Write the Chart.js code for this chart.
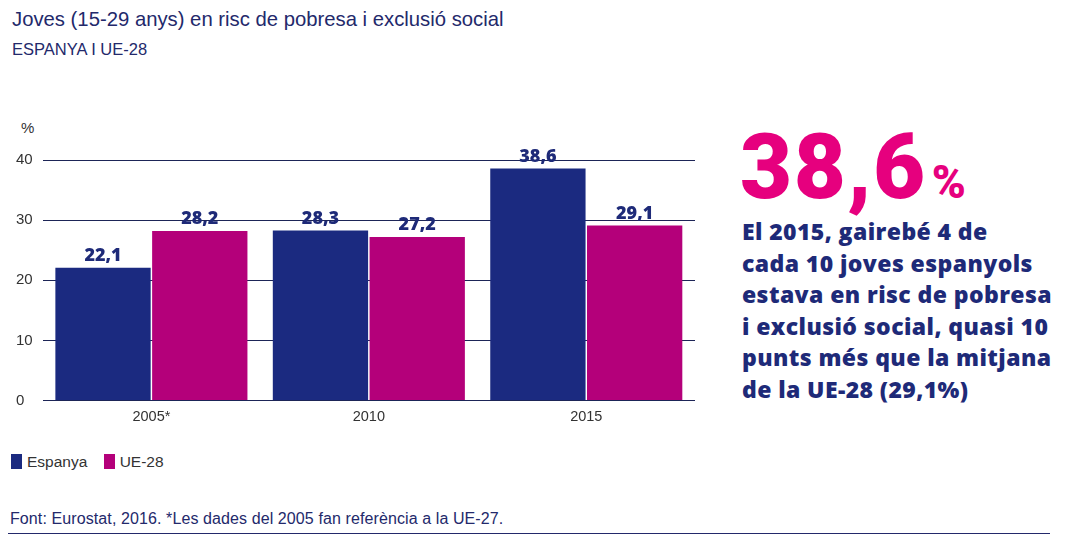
<!DOCTYPE html>
<html>
<head>
<meta charset="utf-8">
<script src="https://cdn.jsdelivr.net/npm/chart.js@4"></script>
<style>
  body { margin: 0; background: #fff; font-family: "Liberation Sans", Arial, sans-serif; color: #23296b; }
  #page { position: relative; width: 1067px; height: 539px; overflow: hidden; }
  .title { position: absolute; left: 12px; top: 8px; font-size: 20.3px; }
  .subtitle { position: absolute; left: 12px; top: 40px; font-size: 16.5px; }
  .pct { position: absolute; left: 21px; top: 119px; font-size: 15px; color: #333; }
  #chartBox { position: absolute; left: 0; top: 120px; width: 710px; height: 306px; }
  .legend { position: absolute; left: 11px; top: 453px; font-size: 15.5px; color: #333; }
  .legend span.sw { display: inline-block; width: 11px; height: 15px; vertical-align: -2px; margin-right: 5px; }
  .legend span.item { margin-right: 12px; }
  .source { position: absolute; left: 10px; top: 510px; font-size: 16px; color: #23296b; letter-spacing: 0.1px; }
  .rule { position: absolute; left: 8px; top: 533px; width: 1042px; height: 1px; background: #23296b; }
  .big { position: absolute; left: 740px; top: 118px; font-family: Roboto, "Liberation Sans", sans-serif; font-weight: 900; color: #e6007e; font-size: 90px; letter-spacing: 1.5px; line-height: 100px; }
  .big small { font-size: 46px; letter-spacing: 0; margin-left: 5px; }
  .note { position: absolute; left: 742px; top: 216px; width: 330px; font-family: "Open Sans", Roboto, sans-serif; font-weight: 800; color: #1e2a78; font-size: 23px; letter-spacing: 0.4px; line-height: 31.5px; }
</style>
</head>
<body>
<div id="page">
  <div class="title">Joves (15-29 anys) en risc de pobresa i exclusió social</div>
  <div class="subtitle">ESPANYA I UE-28</div>
  <div class="pct">%</div>
  <div id="chartBox"><canvas id="chartYouth"></canvas></div>
  <div class="legend">
    <span class="item"><span class="sw" style="background:#1b2a80"></span>Espanya</span>
    <span class="item"><span class="sw" style="background:#b4007a"></span>UE-28</span>
  </div>
  <div class="source">Font: Eurostat, 2016. *Les dades del 2005 fan referència a la UE-27.</div>
  <div class="rule"></div>
  <div class="big">38,6<small>%</small></div>
  <div class="note">El 2015, gairebé 4 de<br>cada 10 joves espanyols<br>estava en risc de pobresa<br>i exclusió social, quasi 10<br>punts més que la mitjana<br>de la UE-28 (29,1%)</div>
</div>

<script>
const years = ['2005*', '2010', '2015'];
const spainValues = [22.1, 28.3, 38.6];
const euValues = [28.2, 27.2, 29.1];
const yTicks = [0, 10, 20, 30, 40];

// Etiquetes de valor sobre les barres
const valueLabels = {
    id: 'valueLabels',
    afterDatasetsDraw(chart) {
        const ctx = chart.ctx;
        ctx.save();
        ctx.font = '800 18px "Open Sans", Roboto, sans-serif';
        ctx.fillStyle = '#1e2a78';
        ctx.textAlign = 'center';
        ctx.textBaseline = 'bottom';
        chart.data.datasets.forEach((ds, i) => {
            chart.getDatasetMeta(i).data.forEach((bar, j) => {
                ctx.fillText(ds.data[j].toFixed(1).replace('.', ','), bar.x, bar.y - 3);
            });
        });
        ctx.restore();
    }
};

new Chart(document.getElementById('chartYouth').getContext('2d'), {
    type: 'bar',
    data: {
        labels: years,
        datasets: [
            { label: 'Espanya', data: spainValues, backgroundColor: '#1b2a80' },
            { label: 'UE-28', data: euValues, backgroundColor: '#b4007a' }
        ]
    },
    options: {
        responsive: true,
        maintainAspectRatio: false,
        animation: false,
        categoryPercentage: 0.89,
        barPercentage: 0.985,
        layout: { padding: { left: 16, right: 15, top: 40, bottom: 0 } },
        plugins: { legend: { display: false }, tooltip: { enabled: false } },
        scales: {
            x: {
                grid: { display: false },
                border: { display: false },
                ticks: { color: '#333', font: { size: 14.5, family: '"Liberation Sans", sans-serif' }, padding: 0 }
            },
            y: {
                min: 0,
                max: 40,
                afterBuildTicks: axis => { axis.ticks = yTicks.map(v => ({ value: v })); },
                grid: { color: '#1d2557', lineWidth: 1, drawTicks: false },
                border: { display: false },
                ticks: { color: '#333', font: { size: 15, family: '"Liberation Sans", sans-serif' }, padding: 5, crossAlign: 'far' }
            }
        }
    },
    plugins: [valueLabels]
});
</script>
</body>
</html>
